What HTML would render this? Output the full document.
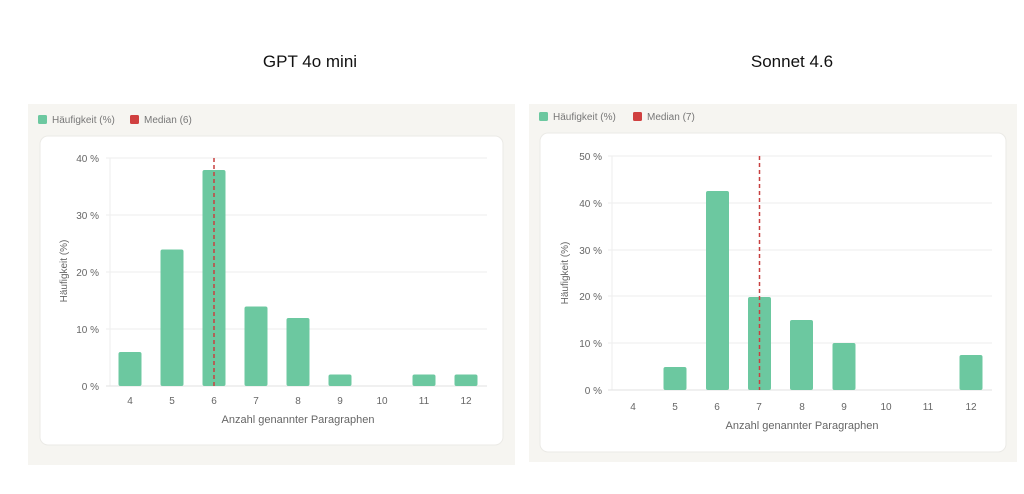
<!DOCTYPE html>
<html><head><meta charset="utf-8"><style>
html,body{margin:0;padding:0;background:#fff;width:1024px;height:494px;overflow:hidden}
svg{display:block;font-family:"Liberation Sans",sans-serif}
</style></head><body>
<svg width="1024" height="494" viewBox="0 0 1024 494" xmlns="http://www.w3.org/2000/svg">
<text x="310" y="67" font-size="17" text-anchor="middle" fill="#111">GPT 4o mini</text>
<text x="792" y="67" font-size="17" text-anchor="middle" fill="#111">Sonnet 4.6</text>

<!-- LEFT -->
<rect x="28" y="104" width="487" height="361" fill="#f6f5f1"/>
<rect x="40" y="136" width="463" height="309" rx="8" fill="#fff" stroke="#ebeae6"/>
<rect x="38" y="115" width="9" height="9" rx="1.5" fill="#6cc8a0"/>
<text x="52" y="123" font-size="10" fill="#777">Häufigkeit (%)</text>
<rect x="130" y="115" width="9" height="9" rx="1.5" fill="#d04040"/>
<text x="144" y="123" font-size="10" fill="#777">Median (6)</text>
<g stroke="#eeeeee" stroke-width="1">
<line x1="106" x2="487" y1="158" y2="158"/><line x1="106" x2="487" y1="215" y2="215"/>
<line x1="106" x2="487" y1="272" y2="272"/><line x1="106" x2="487" y1="329" y2="329"/>
<line x1="110" x2="110" y1="158" y2="386"/>
</g>
<line x1="106" x2="487" y1="386" y2="386" stroke="#e2e2e2"/>
<g font-size="10" fill="#666" text-anchor="end">
<text x="99" y="162">40 %</text><text x="99" y="219">30 %</text><text x="99" y="276">20 %</text><text x="99" y="333">10 %</text><text x="99" y="390">0 %</text>
</g>
<g fill="#6cc8a0">
<rect x="118.5" y="352" width="23" height="34" rx="2"/>
<rect x="160.5" y="249.5" width="23" height="136.5" rx="2"/>
<rect x="202.5" y="170" width="23" height="216" rx="2"/>
<rect x="244.5" y="306.5" width="23" height="79.5" rx="2"/>
<rect x="286.5" y="318" width="23" height="68" rx="2"/>
<rect x="328.5" y="374.5" width="23" height="11.5" rx="2"/>
<rect x="412.5" y="374.5" width="23" height="11.5" rx="2"/>
<rect x="454.5" y="374.5" width="23" height="11.5" rx="2"/>
</g>
<line x1="214" x2="214" y1="158" y2="386" stroke="#c84040" stroke-width="1.5" stroke-dasharray="4,3"/>
<g font-size="10" fill="#666" text-anchor="middle">
<text x="130" y="404">4</text><text x="172" y="404">5</text><text x="214" y="404">6</text><text x="256" y="404">7</text><text x="298" y="404">8</text><text x="340" y="404">9</text><text x="382" y="404">10</text><text x="424" y="404">11</text><text x="466" y="404">12</text>
<text x="298" y="423" font-size="11">Anzahl genannter Paragraphen</text>
</g>
<text transform="translate(67,271) rotate(-90)" font-size="10" fill="#666" text-anchor="middle">Häufigkeit (%)</text>

<!-- RIGHT -->
<rect x="529" y="104" width="488" height="358" fill="#f6f5f1"/>
<rect x="540" y="133" width="466" height="319" rx="8" fill="#fff" stroke="#ebeae6"/>
<rect x="539" y="112" width="9" height="9" rx="1.5" fill="#6cc8a0"/>
<text x="553" y="120" font-size="10" fill="#777">Häufigkeit (%)</text>
<rect x="633" y="112" width="9" height="9" rx="1.5" fill="#d04040"/>
<text x="647" y="120" font-size="10" fill="#777">Median (7)</text>
<g stroke="#eeeeee" stroke-width="1">
<line x1="608" x2="992" y1="156" y2="156"/><line x1="608" x2="992" y1="203" y2="203"/>
<line x1="608" x2="992" y1="250" y2="250"/><line x1="608" x2="992" y1="296" y2="296"/>
<line x1="608" x2="992" y1="343" y2="343"/>
<line x1="612" x2="612" y1="156" y2="390"/>
</g>
<line x1="608" x2="992" y1="390" y2="390" stroke="#e2e2e2"/>
<g font-size="10" fill="#666" text-anchor="end">
<text x="602" y="160">50 %</text><text x="602" y="207">40 %</text><text x="602" y="254">30 %</text><text x="602" y="300">20 %</text><text x="602" y="347">10 %</text><text x="602" y="394">0 %</text>
</g>
<g fill="#6cc8a0">
<rect x="663.5" y="367" width="23" height="23" rx="2"/>
<rect x="706" y="191" width="23" height="199" rx="2"/>
<rect x="748" y="297" width="23" height="93" rx="2"/>
<rect x="790" y="320" width="23" height="70" rx="2"/>
<rect x="832.5" y="343" width="23" height="47" rx="2"/>
<rect x="959.5" y="355" width="23" height="35" rx="2"/>
</g>
<line x1="759.5" x2="759.5" y1="156" y2="390" stroke="#c84040" stroke-width="1.5" stroke-dasharray="4,3"/>
<g font-size="10" fill="#666" text-anchor="middle">
<text x="633" y="410">4</text><text x="675" y="410">5</text><text x="717" y="410">6</text><text x="759" y="410">7</text><text x="802" y="410">8</text><text x="844" y="410">9</text><text x="886" y="410">10</text><text x="928" y="410">11</text><text x="971" y="410">12</text>
<text x="802" y="429" font-size="11">Anzahl genannter Paragraphen</text>
</g>
<text transform="translate(568,273) rotate(-90)" font-size="10" fill="#666" text-anchor="middle">Häufigkeit (%)</text>
</svg>
</body></html>
